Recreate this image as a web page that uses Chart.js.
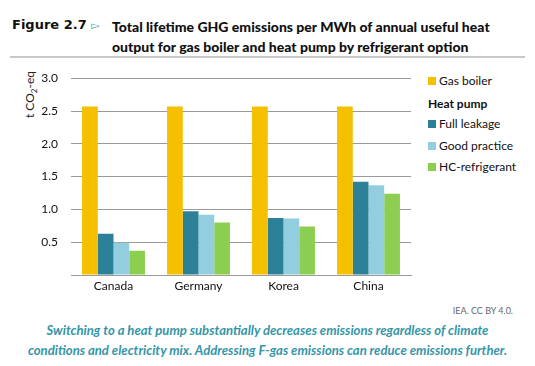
<!DOCTYPE html>
<html><head><meta charset="utf-8">
<script src="https://cdn.jsdelivr.net/npm/chart.js@4/dist/chart.umd.min.js"></script>
<style>
html,body{margin:0;padding:0;background:#fff;width:535px;height:366px;overflow:hidden;font-family:Lato,sans-serif;}
.abs{position:absolute;white-space:nowrap;}
#fig{left:12px;top:17px;font-family:"DejaVu Sans";font-weight:bold;font-size:13px;color:#111;}
#fig span{color:#3a9bb0;font-weight:normal;font-size:11px;}
#title{left:112px;top:17px;font-family:Lato;font-weight:900;font-size:14px;line-height:20px;color:#111;}
#rule{left:10px;top:56px;width:515px;height:2px;background:#c8c8c8;}
#ytitle{left:23px;top:118px;transform:rotate(-90deg);transform-origin:0 0;font-size:12px;line-height:14px;color:#222;}
#cc{right:22px;top:305px;font-size:9px;color:#666;}
#cap{left:0;width:535px;top:320px;text-align:center;font-weight:bold;font-style:italic;font-size:13.1px;line-height:20px;color:#3596a8;white-space:normal;}
#wrap{position:absolute;left:0;top:58px;width:415px;height:242px;}
#legend{left:428px;top:73px;font-size:12px;color:#111;}
.li{position:absolute;left:0;height:16px;line-height:16px;white-space:nowrap;}
.sw{display:inline-block;width:8px;height:8px;margin-right:3px;vertical-align:0px;}
</style></head><body>
<div id="fig" class="abs">Figure 2.7 <span>▻</span></div>
<div id="title" class="abs">Total lifetime GHG emissions per MWh of annual useful heat<br>output for gas boiler and heat pump by refrigerant option</div>
<div id="rule" class="abs"></div>
<div id="ytitle" class="abs">t CO<sub style="font-size:8px">2</sub>-eq</div>
<div id="wrap"><canvas id="c"></canvas></div>
<div id="legend" class="abs"></div>
<div id="cc" class="abs">IEA. CC BY 4.0.</div>
<div id="cap" class="abs">Switching to a heat pump substantially decreases emissions regardless of climate<br>conditions and electricity mix. Addressing F-gas emissions can reduce emissions further.</div>
<script>
const categories = ["Canada","Germany","Korea","China"];
const gasBoiler = [2.57,2.57,2.57,2.57];
const fullLeakage = [0.63,0.97,0.87,1.42];
const goodPractice = [0.49,0.92,0.86,1.37];
const hcRefrigerant = [0.37,0.80,0.74,1.24];
const yTicks = [0,0.5,1.0,1.5,2.0,2.5,3.0];
const seriesNames = ["Gas boiler","Full leakage","Good practice","HC-refrigerant"];
const colors = ["#f5c000","#2c8199","#93cde0","#8ccf50"];
const values = [gasBoiler,fullLeakage,goodPractice,hcRefrigerant];

const datasets = values.map((v,i)=>({label:seriesNames[i],data:v,backgroundColor:colors[i],borderWidth:0,categoryPercentage:0.74,barPercentage:1.0}));

new Chart(document.getElementById('c'),{
  type:'bar',
  data:{labels:categories,datasets},
  options:{
    responsive:true,maintainAspectRatio:false,animation:false,
    layout:{padding:{top:11,right:4,left:0,bottom:0}},
    plugins:{legend:{display:false},tooltip:{enabled:false}},
    scales:{
      x:{grid:{display:false,drawTicks:false},border:{display:true,color:'#9a9a9a',width:1},
         ticks:{color:'#111',font:{family:'Lato',size:12},padding:4},
         afterFit(s){s.height=25;}},
      y:{min:0,max:3,afterBuildTicks(s){s.ticks=yTicks.map(v=>({value:v}));},
         grid:{color:'#9a9a9a',borderDash:[1,2],drawTicks:false,lineWidth:1},
         border:{display:false},
         ticks:{color:'#111',font:{family:'Lato',size:12},padding:13,callback:(v)=>v===0?'':Number(v).toFixed(1)},
         afterFit(s){s.width=71;}}
    }
  }
});

const lg=document.getElementById('legend');
const rows=[[0,0],[null,23],[1,43],[2,65],[3,86]];
rows.forEach(([i,top])=>{
  const d=document.createElement('div');d.className='li';d.style.top=top+'px';
  if(i===null){d.innerHTML='<b>Heat pump</b>';}
  else d.innerHTML='<span class="sw" style="background:'+colors[i]+'"></span>'+seriesNames[i];
  lg.appendChild(d);
});
</script>
</body></html>
